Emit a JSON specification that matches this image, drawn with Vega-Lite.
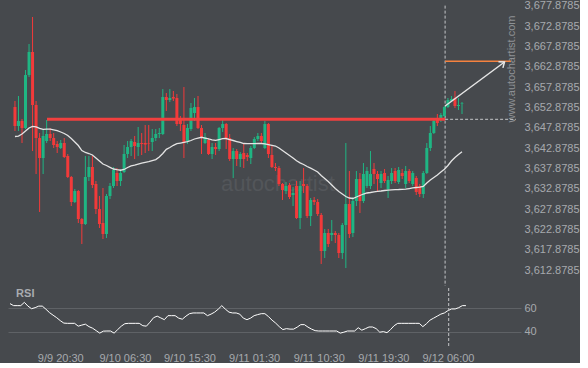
{
"$schema": "https://vega.github.io/schema/vega-lite/v6.json",
"background": "#46494d",
"padding": {"left": 7, "top": -1, "right": 0, "bottom": 0},
"spacing": 0,
"config": {"view": {"stroke": null}, "font": "Liberation Sans", "axis": {"labelFont": "Liberation Sans", "labelColor": "#a6a9ad", "labelFontSize": 11, "domain": false, "ticks": false, "grid": false, "labelOverlap": false, "labelFlush": false}},
"resolve": {"scale": {"x": "independent", "y": "independent"}},
"datasets": {"candles": [
{"idx":0,"open":3652.96,"high":3654.44,"low":3647.06,"close":3648.29,"ma":3645.71,"rsi":64.0},
{"idx":1,"open":3648.29,"high":3655.67,"low":3647.06,"close":3649.52,"ma":3645.83,"rsi":62.3},
{"idx":2,"open":3649.52,"high":3650.01,"low":3644.11,"close":3647.80,"ma":3646.33,"rsi":62.3},
{"idx":3,"open":3647.80,"high":3662.06,"low":3647.55,"close":3660.83,"ma":3647.06,"rsi":62.3},
{"idx":4,"open":3660.83,"high":3668.46,"low":3660.34,"close":3666.49,"ma":3647.80,"rsi":65.1},
{"idx":5,"open":3666.49,"high":3675.10,"low":3642.14,"close":3653.46,"ma":3648.22,"rsi":61.9},
{"idx":6,"open":3653.46,"high":3654.44,"low":3636.49,"close":3645.34,"ma":3648.10,"rsi":59.7},
{"idx":7,"open":3645.34,"high":3646.57,"low":3627.15,"close":3640.42,"ma":3647.73,"rsi":60.6},
{"idx":8,"open":3640.42,"high":3647.55,"low":3636.49,"close":3645.83,"ma":3647.48,"rsi":61.9},
{"idx":9,"open":3644.60,"high":3649.77,"low":3644.11,"close":3646.33,"ma":3647.51,"rsi":61.9},
{"idx":10,"open":3646.33,"high":3647.80,"low":3644.60,"close":3645.34,"ma":3647.55,"rsi":59.3},
{"idx":11,"open":3645.34,"high":3646.57,"low":3642.88,"close":3643.62,"ma":3647.36,"rsi":56.4},
{"idx":12,"open":3643.87,"high":3644.60,"low":3641.65,"close":3643.13,"ma":3647.14,"rsi":54.2},
{"idx":13,"open":3642.88,"high":3644.85,"low":3642.64,"close":3644.11,"ma":3646.82,"rsi":52.1},
{"idx":14,"open":3644.11,"high":3645.34,"low":3640.42,"close":3640.67,"ma":3646.45,"rsi":49.6},
{"idx":15,"open":3640.92,"high":3641.41,"low":3635.51,"close":3635.75,"ma":3645.96,"rsi":47.5},
{"idx":16,"open":3635.75,"high":3636.00,"low":3628.62,"close":3629.60,"ma":3645.22,"rsi":47.3},
{"idx":17,"open":3629.60,"high":3632.80,"low":3629.36,"close":3632.31,"ma":3644.36,"rsi":47.3},
{"idx":18,"open":3632.31,"high":3632.55,"low":3624.44,"close":3625.42,"ma":3643.50,"rsi":47.3},
{"idx":19,"open":3625.42,"high":3625.67,"low":3619.28,"close":3624.19,"ma":3642.27,"rsi":44.9},
{"idx":20,"open":3624.19,"high":3640.92,"low":3623.95,"close":3635.75,"ma":3641.78,"rsi":45.8},
{"idx":21,"open":3635.75,"high":3640.92,"low":3634.77,"close":3638.21,"ma":3641.53,"rsi":46.6},
{"idx":22,"open":3638.21,"high":3640.92,"low":3633.05,"close":3633.78,"ma":3641.16,"rsi":44.5},
{"idx":23,"open":3634.03,"high":3634.77,"low":3626.65,"close":3627.88,"ma":3640.42,"rsi":43.2},
{"idx":24,"open":3627.88,"high":3631.08,"low":3623.21,"close":3624.19,"ma":3639.69,"rsi":41.1},
{"idx":25,"open":3624.44,"high":3633.05,"low":3620.51,"close":3621.74,"ma":3638.95,"rsi":39.0},
{"idx":26,"open":3621.74,"high":3631.57,"low":3620.75,"close":3631.08,"ma":3638.58,"rsi":40.7},
{"idx":27,"open":3631.08,"high":3634.28,"low":3630.34,"close":3633.54,"ma":3638.14,"rsi":40.8},
{"idx":28,"open":3633.54,"high":3638.21,"low":3633.05,"close":3637.47,"ma":3637.72,"rsi":40.8},
{"idx":29,"open":3636.74,"high":3637.96,"low":3633.54,"close":3634.77,"ma":3637.55,"rsi":39.0},
{"idx":30,"open":3634.77,"high":3637.72,"low":3633.54,"close":3636.74,"ma":3637.42,"rsi":42.0},
{"idx":31,"open":3636.98,"high":3643.62,"low":3636.74,"close":3641.41,"ma":3637.60,"rsi":44.9},
{"idx":32,"open":3641.41,"high":3644.60,"low":3640.42,"close":3643.13,"ma":3638.09,"rsi":47.0},
{"idx":33,"open":3643.13,"high":3645.10,"low":3640.92,"close":3644.60,"ma":3638.51,"rsi":47.3},
{"idx":34,"open":3644.36,"high":3645.83,"low":3640.18,"close":3643.37,"ma":3638.70,"rsi":47.3},
{"idx":35,"open":3643.13,"high":3648.05,"low":3640.92,"close":3644.11,"ma":3638.95,"rsi":47.3},
{"idx":36,"open":3644.11,"high":3646.57,"low":3641.16,"close":3643.87,"ma":3639.19,"rsi":47.3},
{"idx":37,"open":3644.11,"high":3648.54,"low":3641.65,"close":3643.74,"ma":3639.37,"rsi":45.3},
{"idx":38,"open":3643.99,"high":3648.54,"low":3642.14,"close":3643.87,"ma":3639.56,"rsi":44.9},
{"idx":39,"open":3644.36,"high":3647.55,"low":3642.14,"close":3645.34,"ma":3639.81,"rsi":48.3},
{"idx":40,"open":3645.34,"high":3647.55,"low":3644.60,"close":3646.33,"ma":3640.05,"rsi":52.1},
{"idx":41,"open":3646.33,"high":3647.80,"low":3645.34,"close":3646.57,"ma":3640.67,"rsi":53.4},
{"idx":42,"open":3646.33,"high":3657.39,"low":3646.08,"close":3655.42,"ma":3641.53,"rsi":51.9},
{"idx":43,"open":3655.42,"high":3656.41,"low":3651.98,"close":3654.69,"ma":3642.56,"rsi":50.4},
{"idx":44,"open":3654.69,"high":3657.39,"low":3654.19,"close":3655.18,"ma":3643.01,"rsi":53.8},
{"idx":45,"open":3655.42,"high":3656.90,"low":3654.44,"close":3655.05,"ma":3643.55,"rsi":53.8},
{"idx":46,"open":3655.18,"high":3656.16,"low":3648.29,"close":3648.78,"ma":3643.94,"rsi":53.8},
{"idx":47,"open":3650.01,"high":3650.75,"low":3647.06,"close":3648.78,"ma":3644.11,"rsi":51.7},
{"idx":48,"open":3648.54,"high":3657.88,"low":3640.42,"close":3644.36,"ma":3644.29,"rsi":50.8},
{"idx":49,"open":3644.60,"high":3648.78,"low":3643.87,"close":3647.80,"ma":3644.43,"rsi":53.4},
{"idx":50,"open":3647.55,"high":3653.95,"low":3647.06,"close":3652.72,"ma":3644.73,"rsi":55.5},
{"idx":51,"open":3651.49,"high":3655.18,"low":3649.52,"close":3652.96,"ma":3645.10,"rsi":56.1},
{"idx":52,"open":3652.96,"high":3655.67,"low":3647.55,"close":3647.80,"ma":3645.34,"rsi":56.1},
{"idx":53,"open":3647.80,"high":3648.54,"low":3641.41,"close":3645.34,"ma":3645.52,"rsi":56.1},
{"idx":54,"open":3644.11,"high":3646.57,"low":3643.87,"close":3645.59,"ma":3645.34,"rsi":56.1},
{"idx":55,"open":3644.85,"high":3645.34,"low":3641.16,"close":3641.41,"ma":3645.10,"rsi":53.8},
{"idx":56,"open":3641.41,"high":3644.11,"low":3640.18,"close":3643.13,"ma":3644.90,"rsi":55.1},
{"idx":57,"open":3643.13,"high":3644.11,"low":3641.16,"close":3642.64,"ma":3644.78,"rsi":56.8},
{"idx":58,"open":3642.64,"high":3648.05,"low":3642.14,"close":3647.80,"ma":3644.97,"rsi":59.3},
{"idx":59,"open":3647.80,"high":3649.77,"low":3646.82,"close":3648.78,"ma":3645.17,"rsi":62.3},
{"idx":60,"open":3648.78,"high":3649.03,"low":3642.64,"close":3645.34,"ma":3645.22,"rsi":59.3},
{"idx":61,"open":3645.34,"high":3646.33,"low":3639.69,"close":3640.18,"ma":3644.97,"rsi":56.8},
{"idx":62,"open":3640.18,"high":3642.88,"low":3635.51,"close":3642.14,"ma":3644.73,"rsi":56.1},
{"idx":63,"open":3642.14,"high":3642.64,"low":3638.46,"close":3640.18,"ma":3644.48,"rsi":56.1},
{"idx":64,"open":3640.18,"high":3641.90,"low":3638.21,"close":3641.41,"ma":3644.24,"rsi":55.1},
{"idx":65,"open":3641.65,"high":3643.87,"low":3637.96,"close":3640.18,"ma":3643.99,"rsi":51.7},
{"idx":66,"open":3641.16,"high":3641.65,"low":3639.69,"close":3640.67,"ma":3643.94,"rsi":50.4},
{"idx":67,"open":3640.42,"high":3643.37,"low":3638.95,"close":3642.88,"ma":3643.94,"rsi":51.7},
{"idx":68,"open":3642.88,"high":3645.59,"low":3642.64,"close":3645.10,"ma":3643.94,"rsi":53.8},
{"idx":69,"open":3645.10,"high":3646.57,"low":3644.60,"close":3645.83,"ma":3643.99,"rsi":54.7},
{"idx":70,"open":3645.83,"high":3646.57,"low":3643.87,"close":3644.60,"ma":3643.99,"rsi":55.5},
{"idx":71,"open":3642.88,"high":3649.52,"low":3642.64,"close":3648.78,"ma":3643.92,"rsi":55.5},
{"idx":72,"open":3648.78,"high":3649.03,"low":3640.42,"close":3641.41,"ma":3643.74,"rsi":53.0},
{"idx":73,"open":3641.16,"high":3643.37,"low":3637.96,"close":3638.21,"ma":3643.55,"rsi":50.0},
{"idx":74,"open":3638.21,"high":3639.19,"low":3637.23,"close":3637.96,"ma":3643.37,"rsi":47.5},
{"idx":75,"open":3637.96,"high":3638.46,"low":3633.54,"close":3634.03,"ma":3642.88,"rsi":44.5},
{"idx":76,"open":3634.03,"high":3634.28,"low":3630.10,"close":3632.55,"ma":3642.27,"rsi":42.0},
{"idx":77,"open":3632.31,"high":3634.52,"low":3631.57,"close":3633.54,"ma":3641.65,"rsi":42.8},
{"idx":78,"open":3633.78,"high":3634.28,"low":3630.34,"close":3630.83,"ma":3641.04,"rsi":42.4},
{"idx":79,"open":3631.33,"high":3633.29,"low":3628.62,"close":3631.82,"ma":3640.42,"rsi":42.4},
{"idx":80,"open":3633.54,"high":3634.77,"low":3625.42,"close":3625.67,"ma":3639.74,"rsi":44.1},
{"idx":81,"open":3625.67,"high":3634.77,"low":3622.96,"close":3633.54,"ma":3639.24,"rsi":46.2},
{"idx":82,"open":3634.03,"high":3637.96,"low":3631.82,"close":3633.54,"ma":3638.83,"rsi":46.2},
{"idx":83,"open":3633.54,"high":3634.03,"low":3625.67,"close":3626.16,"ma":3638.33,"rsi":44.1},
{"idx":84,"open":3626.16,"high":3630.59,"low":3623.70,"close":3630.10,"ma":3637.92,"rsi":42.4},
{"idx":85,"open":3630.10,"high":3630.83,"low":3628.87,"close":3629.60,"ma":3637.47,"rsi":41.1},
{"idx":86,"open":3629.60,"high":3630.34,"low":3626.16,"close":3626.65,"ma":3636.98,"rsi":40.8},
{"idx":87,"open":3626.41,"high":3626.90,"low":3614.36,"close":3617.55,"ma":3636.12,"rsi":40.8},
{"idx":88,"open":3617.55,"high":3622.96,"low":3615.83,"close":3621.98,"ma":3635.38,"rsi":40.8},
{"idx":89,"open":3621.98,"high":3622.96,"low":3618.54,"close":3619.28,"ma":3634.65,"rsi":40.8},
{"idx":90,"open":3621.49,"high":3625.18,"low":3620.01,"close":3621.98,"ma":3633.78,"rsi":40.8},
{"idx":91,"open":3621.98,"high":3622.47,"low":3619.52,"close":3621.49,"ma":3632.92,"rsi":40.8},
{"idx":92,"open":3621.49,"high":3621.98,"low":3615.83,"close":3617.06,"ma":3632.19,"rsi":39.0},
{"idx":93,"open":3617.06,"high":3624.44,"low":3615.59,"close":3623.95,"ma":3631.57,"rsi":39.8},
{"idx":94,"open":3623.95,"high":3644.11,"low":3613.37,"close":3629.11,"ma":3630.96,"rsi":40.8},
{"idx":95,"open":3629.11,"high":3637.23,"low":3620.75,"close":3621.74,"ma":3630.59,"rsi":40.8},
{"idx":96,"open":3621.98,"high":3630.83,"low":3621.00,"close":3629.85,"ma":3630.47,"rsi":40.8},
{"idx":97,"open":3629.85,"high":3637.23,"low":3628.62,"close":3635.26,"ma":3630.83,"rsi":43.6},
{"idx":98,"open":3635.26,"high":3636.74,"low":3626.90,"close":3629.85,"ma":3631.20,"rsi":41.5},
{"idx":99,"open":3629.85,"high":3639.19,"low":3629.36,"close":3636.49,"ma":3631.57,"rsi":42.8},
{"idx":100,"open":3633.54,"high":3638.21,"low":3633.05,"close":3637.23,"ma":3631.82,"rsi":44.2},
{"idx":101,"open":3633.54,"high":3642.14,"low":3632.80,"close":3636.49,"ma":3631.94,"rsi":44.2},
{"idx":102,"open":3637.72,"high":3639.19,"low":3634.03,"close":3636.49,"ma":3632.11,"rsi":42.8},
{"idx":103,"open":3636.49,"high":3637.23,"low":3632.31,"close":3635.26,"ma":3632.24,"rsi":39.8},
{"idx":104,"open":3634.28,"high":3637.23,"low":3633.05,"close":3636.49,"ma":3632.31,"rsi":40.3},
{"idx":105,"open":3636.74,"high":3637.72,"low":3634.28,"close":3634.77,"ma":3632.43,"rsi":39.4},
{"idx":106,"open":3632.80,"high":3636.00,"low":3630.59,"close":3635.01,"ma":3632.55,"rsi":42.0},
{"idx":107,"open":3634.77,"high":3637.96,"low":3634.03,"close":3636.74,"ma":3632.60,"rsi":45.3},
{"idx":108,"open":3637.23,"high":3637.96,"low":3634.28,"close":3634.77,"ma":3632.65,"rsi":47.3},
{"idx":109,"open":3634.52,"high":3638.21,"low":3634.03,"close":3637.47,"ma":3632.68,"rsi":47.3},
{"idx":110,"open":3636.74,"high":3637.72,"low":3635.26,"close":3636.00,"ma":3632.73,"rsi":47.3},
{"idx":111,"open":3634.03,"high":3638.46,"low":3633.05,"close":3637.23,"ma":3632.75,"rsi":47.3},
{"idx":112,"open":3637.23,"high":3637.72,"low":3634.28,"close":3634.77,"ma":3632.92,"rsi":47.3},
{"idx":113,"open":3634.03,"high":3637.23,"low":3633.54,"close":3636.74,"ma":3633.10,"rsi":47.3},
{"idx":114,"open":3635.51,"high":3636.00,"low":3631.33,"close":3632.06,"ma":3633.17,"rsi":47.3},
{"idx":115,"open":3633.54,"high":3634.03,"low":3630.83,"close":3631.57,"ma":3633.24,"rsi":44.5},
{"idx":116,"open":3631.57,"high":3637.23,"low":3630.59,"close":3636.74,"ma":3633.42,"rsi":47.0},
{"idx":117,"open":3636.74,"high":3644.11,"low":3636.49,"close":3642.88,"ma":3634.28,"rsi":50.0},
{"idx":118,"open":3642.88,"high":3648.29,"low":3642.14,"close":3646.57,"ma":3635.01,"rsi":51.7},
{"idx":119,"open":3646.57,"high":3650.01,"low":3646.33,"close":3649.52,"ma":3635.63,"rsi":53.4},
{"idx":120,"open":3650.26,"high":3651.24,"low":3648.29,"close":3649.03,"ma":3636.24,"rsi":55.1},
{"idx":121,"open":3649.77,"high":3651.49,"low":3649.28,"close":3651.00,"ma":3636.98,"rsi":56.1},
{"idx":122,"open":3650.75,"high":3653.21,"low":3650.51,"close":3652.96,"ma":3637.65,"rsi":58.1},
{"idx":123,"open":3652.96,"high":3655.18,"low":3652.72,"close":3654.69,"ma":3638.58,"rsi":59.5},
{"idx":124,"open":3654.44,"high":3655.67,"low":3654.19,"close":3654.93,"ma":3639.69,"rsi":59.5},
{"idx":125,"open":3655.18,"high":3656.90,"low":3652.72,"close":3653.21,"ma":3640.55,"rsi":60.6},
{"idx":126,"open":3653.21,"high":3655.18,"low":3652.23,"close":3653.46,"ma":3641.29,"rsi":62.3},
{"idx":127,"open":3653.70,"high":3654.19,"low":3651.24,"close":3653.83,"ma":3641.97,"rsi":62.3}
]},
"vconcat": [
{
"width": 513, "height": 285,
"data": {"name": "candles"},
"layer": [
{"data": {"values": [{}]},
 "mark": {"type": "text", "text": "autochartist", "fontSize": 22, "color": "#53565a", "align": "center", "baseline": "middle", "font": "Liberation Sans"},
 "encoding": {
  "x": {"datum": 74.7, "type": "quantitative", "scale": {"domain": [-0.557, 142.34], "nice": false, "zero": false}, "axis": null, "title": null},
  "y": {"datum": 3634.03, "type": "quantitative", "scale": {"domain": [3608.95, 3679.034], "nice": false, "zero": false}, "title": null,
        "axis": {"orient": "right", "values": [3612.8785, 3617.8785, 3622.8785, 3627.8785, 3632.8785, 3637.8785, 3642.8785, 3647.8785, 3652.8785, 3657.8785, 3662.8785, 3667.8785, 3672.8785, 3677.8785], "tickCount": 30, "format": ",.4f", "labelPadding": 3, "labelFlush": false, "labelOverlap": false, "title": null}}
 }},
{"data": {"values": [{}]},
 "mark": {"type": "text", "text": "www.autochartist.com", "fontSize": 11, "color": "#8e9195", "angle": 270, "align": "center", "baseline": "middle"},
 "encoding": {
  "x": {"datum": 141.1, "type": "quantitative", "title": null},
  "y": {"datum": 3662.31, "type": "quantitative", "title": null}
 }},
{"data": {"values": [{}]},
 "mark": {"type": "rule", "color": "#c4c6c8", "strokeWidth": 1, "strokeDash": [3, 2]},
 "encoding": {
  "x": {"datum": 122.2, "type": "quantitative", "title": null},
  "y": {"datum": 3677.9, "type": "quantitative", "title": null},
  "y2": {"datum": 3608.95}
 }},
{"mark": {"type": "rule", "strokeWidth": 1},
 "encoding": {
  "x": {"field": "idx", "type": "quantitative", "title": null},
  "y": {"field": "low", "type": "quantitative", "title": null},
  "y2": {"field": "high"},
  "color": {"condition": {"test": "datum.close < datum.open", "value": "#f23a3a"}, "value": "#1fb583"}
 }},
{"mark": {"type": "bar", "size": 3},
 "encoding": {
  "x": {"field": "idx", "type": "quantitative", "title": null},
  "y": {"field": "open", "type": "quantitative", "title": null},
  "y2": {"field": "close"},
  "color": {"condition": {"test": "datum.close < datum.open", "value": "#f23a3a"}, "value": "#1fb583"}
 }},
{"mark": {"type": "line", "color": "#e4e4e4", "strokeWidth": 1.3},
 "encoding": {
  "x": {"field": "idx", "type": "quantitative", "title": null},
  "y": {"field": "ma", "type": "quantitative", "title": null}
 }},
{"data": {"values": [{}]},
 "mark": {"type": "rule", "color": "#f2403f", "strokeWidth": 3},
 "encoding": {
  "x": {"datum": 9.1, "type": "quantitative", "title": null},
  "x2": {"datum": 122.2},
  "y": {"datum": 3649.94, "type": "quantitative", "title": null}
 }},
{"data": {"values": [{}]},
 "mark": {"type": "rule", "color": "#c4c6c8", "strokeWidth": 1, "strokeDash": [3, 2]},
 "encoding": {
  "x": {"datum": 122.2, "type": "quantitative", "title": null},
  "x2": {"datum": 142.3},
  "y": {"datum": 3649.94, "type": "quantitative", "title": null}
 }},
{"data": {"values": [{}]},
 "mark": {"type": "rule", "color": "#f5823f", "strokeWidth": 1.5},
 "encoding": {
  "x": {"datum": 122.2, "type": "quantitative", "title": null},
  "x2": {"datum": 140.9},
  "y": {"datum": 3664.2, "type": "quantitative", "title": null}
 }},
{"data": {"values": [{}]},
 "mark": {"type": "rule", "color": "#e6e6e6", "strokeWidth": 1.5},
 "encoding": {
  "x": {"datum": 122.2, "type": "quantitative", "title": null},
  "x2": {"datum": 139.08},
  "y": {"datum": 3653.21, "type": "quantitative", "title": null},
  "y2": {"datum": 3664.03}
 }},
{"data": {"values": [{}]},
 "mark": {"type": "point", "shape": "M-0.8,1L0,0L0.8,1", "filled": false, "stroke": "#e6e6e6", "strokeWidth": 1.5, "size": 90, "angle": 54, "opacity": 1},
 "encoding": {
  "x": {"datum": 139.08, "type": "quantitative", "title": null},
  "y": {"datum": 3664.03, "type": "quantitative", "title": null}
 }}
]
},
{
"width": 513, "height": 60,
"data": {"name": "candles"},
"layer": [
{"mark": {"type": "line", "color": "#ffffff", "strokeWidth": 1},
 "encoding": {
  "x": {"field": "idx", "type": "quantitative", "scale": {"domain": [-0.557, 142.34], "nice": false, "zero": false}, "title": null,
        "axis": {"values": [14, 32, 50, 68, 86, 104, 122], "tickCount": 30, "labelExpr": "datum.value == 14 ? '9/9 20:30' : datum.value == 32 ? '9/10 06:30' : datum.value == 50 ? '9/10 15:30' : datum.value == 68 ? '9/11 01:30' : datum.value == 86 ? '9/11 10:30' : datum.value == 104 ? '9/11 19:30' : '9/12 06:00'", "labelPadding": 4, "labelFlush": false, "labelOverlap": false, "title": null}},
  "y": {"field": "rsi", "type": "quantitative", "scale": {"domain": [26.4, 77.25], "nice": false, "zero": false}, "title": null,
        "axis": {"orient": "right", "values": [40, 60], "tickCount": 10, "grid": true, "gridColor": "#5f6266", "gridWidth": 1, "labelPadding": 3, "labelFlush": false, "title": null}}
 }},
{"data": {"values": [{}]},
 "mark": {"type": "rule", "color": "#c4c6c8", "strokeWidth": 1, "strokeDash": [3, 2]},
 "encoding": {
  "x": {"datum": 122.2, "type": "quantitative", "title": null}
 }},
{"data": {"values": [{}]},
 "mark": {"type": "text", "text": "RSI", "fontSize": 11, "fontWeight": "bold", "color": "#a9acb0", "align": "left", "baseline": "middle"},
 "encoding": {
  "x": {"datum": 1.7, "type": "quantitative", "title": null},
  "y": {"datum": 72.2, "type": "quantitative", "title": null}
 }}
]
}
]
}
